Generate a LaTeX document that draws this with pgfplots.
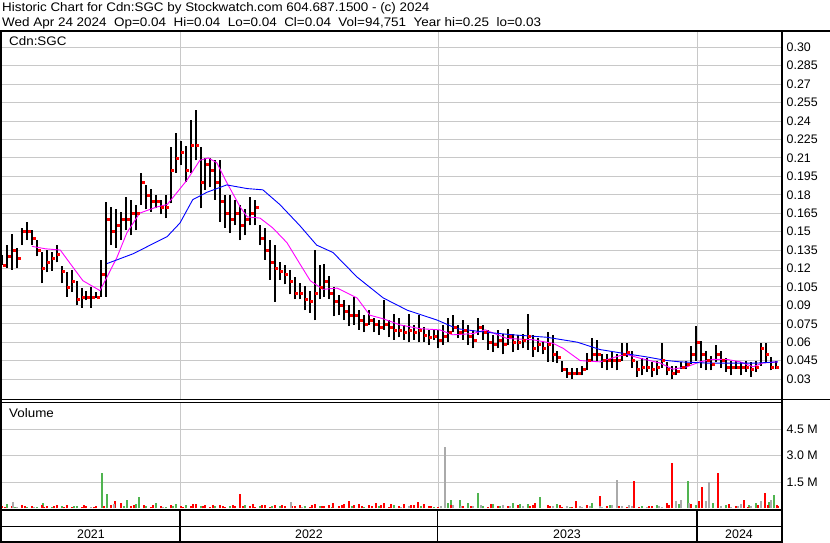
\documentclass[border=0pt]{standalone}
\usepackage{fontspec}
\setmainfont{Liberation Sans}
\usepackage{pgfplots}
\usepackage{pgfplotstable}
\pgfplotsset{compat=1.18}
\definecolor{gridgray}{RGB}{200,200,200}
\definecolor{volgreen}{RGB}{80,180,80}
\definecolor{volred}{RGB}{255,0,0}
\definecolor{volgray}{RGB}{170,170,170}
\definecolor{mamag}{RGB}{255,0,255}
\definecolor{mablue}{RGB}{0,0,255}
\newcommand\cf{\fontsize{12.4}{14}\selectfont}

% weekly bars: day (since 2021-01-01), low, high, close
\pgfplotstableread{
d lo hi cl
114 0.123 0.131 0.123
121 0.120 0.139 0.130
128 0.119 0.148 0.135
135 0.120 0.137 0.128
142 0.139 0.153 0.150
149 0.143 0.158 0.150
156 0.139 0.151 0.145
163 0.130 0.143 0.135
170 0.108 0.133 0.120
177 0.117 0.135 0.125
184 0.118 0.133 0.128
191 0.125 0.139 0.132
198 0.108 0.122 0.118
205 0.097 0.117 0.105
212 0.101 0.119 0.110
219 0.090 0.110 0.095
226 0.088 0.104 0.097
233 0.094 0.102 0.097
240 0.088 0.105 0.097
247 0.096 0.101 0.097
254 0.097 0.127 0.115
261 0.097 0.174 0.160
268 0.139 0.170 0.150
275 0.137 0.168 0.155
282 0.143 0.166 0.160
289 0.151 0.178 0.160
296 0.147 0.176 0.165
303 0.151 0.172 0.165
310 0.172 0.198 0.190
317 0.168 0.188 0.180
324 0.166 0.185 0.175
331 0.169 0.180 0.175
338 0.164 0.176 0.170
345 0.161 0.180 0.170
352 0.173 0.219 0.200
359 0.198 0.230 0.210
366 0.204 0.224 0.215
373 0.190 0.220 0.200
380 0.198 0.241 0.220
387 0.208 0.249 0.220
394 0.169 0.219 0.190
401 0.184 0.210 0.205
408 0.186 0.210 0.200
415 0.176 0.208 0.190
422 0.158 0.208 0.175
429 0.153 0.180 0.165
436 0.149 0.180 0.160
443 0.155 0.176 0.165
450 0.143 0.172 0.155
457 0.147 0.168 0.160
464 0.155 0.178 0.165
471 0.155 0.176 0.170
478 0.139 0.155 0.145
485 0.127 0.153 0.135
492 0.111 0.143 0.125
499 0.093 0.139 0.120
506 0.111 0.125 0.118
513 0.107 0.123 0.115
520 0.099 0.119 0.110
527 0.095 0.113 0.100
534 0.095 0.108 0.100
541 0.086 0.106 0.095
548 0.084 0.102 0.093
555 0.078 0.135 0.100
562 0.095 0.123 0.105
569 0.097 0.124 0.110
576 0.095 0.114 0.100
583 0.081 0.105 0.093
590 0.082 0.098 0.090
597 0.078 0.094 0.085
604 0.073 0.090 0.082
611 0.074 0.097 0.082
618 0.070 0.086 0.078
625 0.068 0.082 0.075
632 0.074 0.086 0.078
639 0.068 0.080 0.075
646 0.066 0.078 0.072
653 0.070 0.094 0.075
660 0.064 0.078 0.072
667 0.062 0.083 0.070
674 0.064 0.080 0.070
681 0.062 0.074 0.068
688 0.060 0.083 0.070
695 0.062 0.074 0.068
702 0.060 0.082 0.070
709 0.060 0.072 0.066
716 0.058 0.070 0.064
723 0.062 0.071 0.065
730 0.055 0.070 0.062
737 0.058 0.074 0.065
744 0.060 0.080 0.068
751 0.068 0.082 0.072
758 0.063 0.074 0.068
765 0.062 0.078 0.070
772 0.058 0.074 0.065
779 0.055 0.070 0.062
786 0.066 0.080 0.072
793 0.062 0.074 0.068
800 0.054 0.070 0.060
807 0.052 0.066 0.058
814 0.055 0.070 0.062
821 0.050 0.067 0.058
828 0.058 0.071 0.065
835 0.052 0.067 0.060
842 0.054 0.066 0.060
849 0.055 0.067 0.062
856 0.054 0.083 0.065
863 0.048 0.066 0.055
870 0.052 0.063 0.058
877 0.050 0.061 0.055
884 0.044 0.068 0.058
891 0.044 0.066 0.050
898 0.043 0.053 0.048
905 0.036 0.045 0.038
912 0.031 0.039 0.035
919 0.030 0.039 0.035
926 0.033 0.039 0.035
933 0.033 0.041 0.038
940 0.037 0.051 0.045
947 0.045 0.063 0.050
954 0.044 0.062 0.050
961 0.039 0.050 0.045
968 0.037 0.050 0.045
975 0.039 0.052 0.045
982 0.037 0.050 0.045
989 0.045 0.059 0.050
996 0.048 0.059 0.052
1003 0.039 0.053 0.045
1010 0.032 0.045 0.038
1017 0.033 0.047 0.040
1024 0.036 0.047 0.040
1031 0.032 0.044 0.038
1038 0.033 0.045 0.040
1045 0.039 0.059 0.045
1052 0.033 0.044 0.038
1059 0.030 0.041 0.035
1066 0.033 0.041 0.036
1073 0.038 0.044 0.040
1080 0.038 0.045 0.042
1087 0.042 0.057 0.050
1094 0.045 0.073 0.060
1101 0.039 0.061 0.050
1108 0.037 0.053 0.045
1115 0.037 0.049 0.042
1122 0.044 0.058 0.050
1129 0.039 0.053 0.045
1136 0.036 0.047 0.040
1143 0.033 0.045 0.040
1150 0.038 0.045 0.040
1157 0.033 0.044 0.040
1164 0.036 0.045 0.040
1171 0.032 0.044 0.038
1178 0.036 0.045 0.040
1185 0.041 0.059 0.055
1192 0.044 0.059 0.050
1199 0.037 0.048 0.040
1206 0.038 0.045 0.040
}\bars

% short moving average (magenta)
\pgfplotstableread{
d v
156 0.138
175 0.136
196 0.135
210 0.124
228 0.110
252 0.102
262 0.113
276 0.129
290 0.149
308 0.165
332 0.170
347 0.172
361 0.182
375 0.192
393 0.208
405 0.210
417 0.206
431 0.190
450 0.170
460 0.162
478 0.161
496 0.153
516 0.141
534 0.124
549 0.110
567 0.103
587 0.104
615 0.096
633 0.082
652 0.079
676 0.074
704 0.071
732 0.070
750 0.066
779 0.067
796 0.070
827 0.063
863 0.062
892 0.059
906 0.055
930 0.045
958 0.044
986 0.049
996 0.050
1014 0.047
1043 0.043
1061 0.038
1081 0.040
1099 0.044
1118 0.046
1137 0.046
1156 0.044
1174 0.040
1188 0.043
1209 0.044
}\maS

% long moving average (blue)
\pgfplotstableread{
d v
262 0.124
276 0.127
299 0.132
323 0.139
347 0.146
365 0.157
383 0.176
403 0.182
431 0.188
460 0.185
482 0.184
506 0.172
534 0.155
558 0.139
581 0.133
615 0.113
652 0.096
686 0.086
728 0.078
756 0.071
798 0.068
835 0.066
883 0.064
926 0.060
958 0.054
990 0.051
1024 0.048
1053 0.045
1071 0.044
1109 0.043
1156 0.043
1180 0.043
1209 0.044
}\maL

% volume (millions); c: 0 up (green), 1 down (red), 2 unchanged (gray)
\pgfplotstableread{
d v c
114 0.15 1
117.5 0.10 1
121 0.25 0
128 0.12 1
129 0.35 2
131.5 0.06 0
135 0.08 2
142 0.18 1
145.5 0.12 1
149 0.10 0
156 0.14 1
159.5 0.08 2
163 0.07 0
170 0.20 1
171 0.29 0
173.5 0.10 1
177 0.12 1
184 0.09 0
187.5 0.15 1
191 0.16 1
198 0.11 0
201.5 0.07 1
205 0.20 1
212 0.08 1
215.5 0.12 0
219 0.13 0
226 0.10 1
229.5 0.16 1
233 0.15 1
240 0.07 2
243.5 0.10 1
247 0.12 1
255 2.00 0
257.5 0.15 1
262 0.84 0
268 0.20 1
271.5 0.25 2
273 0.41 1
282 0.30 1
285.5 0.12 0
290 0.49 0
296 0.15 1
299.5 0.20 1
303 0.25 0
307 0.64 0
313.5 0.20 1
317 0.15 0
324 0.10 1
327.5 0.18 1
331 0.30 0
338 0.12 1
341.5 0.08 2
345 0.10 0
352 0.20 1
355.5 0.14 0
359 0.25 0
366 0.15 1
369.5 0.10 1
373 0.20 0
380 0.15 1
383.5 0.22 1
387 0.25 1
394 0.12 0
397.5 0.15 1
401 0.18 1
408 0.10 1
411.5 0.20 1
415 0.14 0
422 0.20 1
425.5 0.12 1
429 0.10 1
436 0.15 0
439.5 0.18 1
443 0.12 1
450 0.84 1
453.5 0.14 1
457 0.20 0
464 0.15 1
467.5 0.22 1
471 0.10 1
478 0.12 0
481.5 0.16 1
485 0.18 1
492 0.10 1
495.5 0.12 0
499 0.20 1
506 0.12 0
509.5 0.18 1
513 0.15 1
522 0.35 2
523.5 0.15 1
527 0.14 1
534 0.20 1
537.5 0.10 2
541 0.12 0
548 0.10 1
551.5 0.18 1
555 0.25 1
562 0.15 0
565.5 0.12 1
569 0.12 1
576 0.20 1
579.5 0.10 0
581 0.29 1
590 0.15 1
593.5 0.20 1
597 0.22 1
604 0.41 1
607.5 0.12 0
611 0.18 1
618 0.25 1
621.5 0.15 1
625 0.10 0
632 0.20 1
635.5 0.12 1
642 0.31 1
646 0.12 0
649.5 0.18 1
653 0.28 1
660 0.10 1
663.5 0.22 1
667 0.20 0
674 0.15 1
677.5 0.10 2
681 0.25 1
688 0.12 2
691.5 0.18 1
695 0.20 1
701 0.35 1
705.5 0.12 0
709 0.22 1
716 0.12 1
719.5 0.15 1
723 0.10 0
730 0.08 1
733.5 0.12 2
739 3.47 2
744 0.30 0
747.5 0.20 1
748 0.45 0
751 0.20 2
760 0.45 0
761.5 0.15 2
765 0.15 1
772 0.30 0
775.5 0.12 1
779 0.12 2
786 0.90 0
789.5 0.20 2
793 0.15 0
800 0.10 1
803.5 0.25 1
807 0.25 0
814 0.12 1
817.5 0.15 0
821 0.20 2
828 0.15 1
831.5 0.12 2
835 0.30 0
842 0.20 1
845.5 0.25 0
849 0.12 2
856 0.25 0
859.5 0.12 1
863 0.18 1
866 0.30 1
873 0.64 0
887.5 0.15 1
884 0.20 1
891 0.12 2
898 0.25 0
901.5 0.18 1
905 0.10 1
912 0.15 2
915.5 0.10 0
919 0.08 1
924 0.41 1
929.5 0.15 2
933 0.10 2
940 0.20 1
943.5 0.12 2
947 0.30 0
958 0.70 1
957.5 0.15 2
961 0.10 2
968 0.12 1
971.5 0.18 0
975 0.20 2
982 1.64 2
985.5 0.12 1
989 0.15 2
996 0.08 1
999.5 0.20 2
1003 0.12 2
1006 1.58 1
1013.5 0.10 1
1017 0.15 0
1024 0.08 2
1027.5 0.12 1
1031 0.12 1
1038 0.20 0
1041.5 0.15 2
1045 0.10 2
1052 0.30 1
1055.5 0.20 1
1060 2.59 1
1066 0.40 2
1069.5 0.25 0
1073 0.45 2
1082 1.58 0
1083.5 0.30 2
1087 0.25 1
1094 0.20 0
1097.5 0.40 1
1102 1.23 1
1108 0.40 2
1112 1.48 2
1111.5 0.20 0
1118 0.30 0
1125 2.00 1
1129 0.15 2
1136 0.20 0
1139.5 0.25 1
1143 0.10 2
1150 0.15 1
1153.5 0.12 2
1157 0.25 2
1161 0.49 1
1168 0.20 0
1167.5 0.10 1
1171 0.15 2
1178 0.30 0
1181.5 0.20 1
1185 0.40 2
1191 0.90 1
1196 0.35 0
1195.5 0.20 1
1199 0.50 2
1203 0.78 0
1208 0.20 1
1209.5 0.15 1
}\vol

\pgfplotsset{
  panel/.style={
    scale only axis, width=779pt,
    xmin=113.7, xmax=1213.6,
    xtick={365,730,1095}, xticklabels={},
    xmajorgrids, ymajorgrids,
    grid style={draw=gridgray, line width=0.9pt},
    axis line style={draw=none},
    major tick length=0pt,
    yticklabel pos=right,
    ticklabel style={font=\cf},
    yticklabel style={anchor=west, inner xsep=0pt, xshift=5.5pt},
    clip=true,
  },
}

\begin{document}
\begin{tikzpicture}
\path[use as bounding box, fill=white] (0,0) rectangle (830pt,543pt);

% price panel
\begin{axis}[panel,
  at={(2pt,143pt)}, anchor=south west, height=368.3pt,
  ymin=0.01294, ymax=0.3127,
  ytick={0.03,0.045,0.06,0.075,0.09,0.105,0.12,0.135,0.15,0.165,0.18,0.195,0.21,0.225,0.24,0.255,0.27,0.285,0.30},
  yticklabels={0.03,0.045,0.06,0.075,0.09,0.105,0.12,0.135,0.15,0.165,0.18,0.195,0.21,0.225,0.24,0.255,0.27,0.285,0.30},
]
\addplot[only marks, mark=*, mark size=0pt, mark options={draw=none, fill=none}, forget plot,
  error bars/.cd, y dir=plus, y explicit, error mark=none,
  error bar style={black, line width=2pt}]
  table[x=d, y=lo, y error plus expr={\thisrow{hi}-\thisrow{lo}}] {\bars};
\addplot[only marks, mark=square*, mark size=1pt, color=volred, forget plot,
  mark options={xshift=1.8pt}]
  table[x=d, y=cl] {\bars};
\addplot[mamag, line width=0.9pt] table[x=d, y=v] {\maS};
\addplot[mablue, line width=0.9pt] table[x=d, y=v] {\maL};
\end{axis}

% volume panel
\begin{axis}[panel,
  at={(2pt,34.7pt)}, anchor=south west, height=105.8pt,
  ymin=0, ymax=6.03,
  ytick={1.5,3,4.5}, yticklabels={1.5 M,3.0 M,4.5 M},
]
\addplot[ycomb, draw=volgreen, line width=2pt]
  table[x=d, y expr={\thisrow{c}==0 ? \thisrow{v} : 0}] {\vol};
\addplot[ycomb, draw=volred, line width=2pt]
  table[x=d, y expr={\thisrow{c}==1 ? \thisrow{v} : 0}] {\vol};
\addplot[ycomb, draw=volgray, line width=2pt]
  table[x=d, y expr={\thisrow{c}==2 ? \thisrow{v} : 0}] {\vol};
\end{axis}

% frames
\draw[line width=1.7pt] (0,512.2pt) -- (830pt,512.2pt);
\draw[line width=2.2pt] (1.1pt,0) -- (1.1pt,512.2pt);
\draw[line width=2.2pt] (782pt,0) -- (782pt,512.2pt);
\draw[line width=1pt] (0,143.2pt) -- (830pt,143.2pt);
\draw[line width=1pt] (0,140.8pt) -- (782pt,140.8pt);
\draw[line width=1.6pt] (0,33pt) -- (782pt,33pt);
\draw[line width=1.6pt] (0,16.5pt) -- (782pt,16.5pt);
\draw[line width=2pt] (0,1pt) -- (782pt,1pt);
\foreach \xx in {180,437.5,697} \draw[line width=1.3pt] (\xx pt,1pt) -- (\xx pt,33pt);

% texts
\node[anchor=base west, inner sep=0pt, font=\cf] at (2pt,531.5pt)
  {\scalebox{1.08}[1]{Historic Chart for Cdn:SGC by Stockwatch.com 604.687.1500 - (c) 2024}};
\node[anchor=base west, inner sep=0pt, font=\cf] at (2pt,516.5pt)
  {\scalebox{1.085}[1]{Wed Apr 24 2024\ \ Op=0.04\ \ Hi=0.04\ \ Lo=0.04\ \ Cl=0.04\ \ Vol=94,751\ \ Year hi=0.25\ \ lo=0.03}};
\node[anchor=west, inner sep=0pt, font=\cf] at (9pt,501.5pt) {\scalebox{1.08}[1]{Cdn:SGC}};
\node[anchor=west, inner sep=0pt, font=\cf] at (9pt,130pt) {\scalebox{1.08}[1]{Volume}};
\node[font=\cf, inner sep=0pt] at (91pt,8.5pt) {2021};
\node[font=\cf, inner sep=0pt] at (309pt,8.5pt) {2022};
\node[font=\cf, inner sep=0pt] at (567pt,8.5pt) {2023};
\node[font=\cf, inner sep=0pt] at (739pt,8.5pt) {2024};
\end{tikzpicture}
\end{document}
